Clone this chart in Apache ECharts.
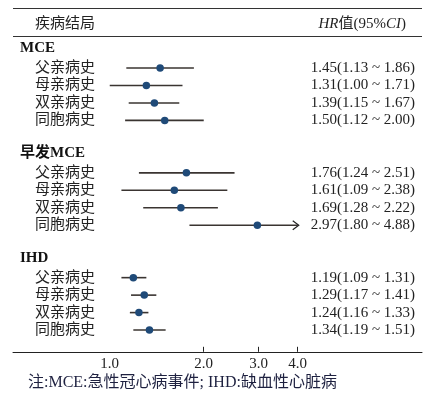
<!DOCTYPE html>
<html><head><meta charset="utf-8">
<script src="https://cdn.jsdelivr.net/npm/echarts@6/dist/echarts.min.js"></script>
<style>html,body{margin:0;padding:0;background:#fff}#c{width:433px;height:394px}</style>
</head><body><div id="c"></div>
<script>
// ---- data ----
const groups = ['MCE', '早发MCE', 'IHD'];
const rowLabels = ['父亲病史', '母亲病史', '双亲病史', '同胞病史'];
const hrMCE = [1.45, 1.31, 1.39, 1.50];
const loMCE = [1.13, 1.00, 1.15, 1.12];
const hiMCE = [1.86, 1.71, 1.67, 2.00];
const hrEarly = [1.76, 1.61, 1.69, 2.97];
const loEarly = [1.24, 1.09, 1.28, 1.80];
const hiEarly = [2.51, 2.38, 2.22, 4.88];
const hrIHD = [1.19, 1.29, 1.24, 1.34];
const loIHD = [1.09, 1.17, 1.16, 1.19];
const hiIHD = [1.31, 1.41, 1.33, 1.51];
const tickLabelValues = [1, 2, 3, 4];
const tickMarkValues = [2, 3, 4];
const headerLeft = '疾病结局';
const footnote = '注:MCE:急性冠心病事件; IHD:缺血性心脏病';

// ---- build ----
const FONT = '"Liberation Serif","Noto Sans CJK SC",serif';
const ARROW_CAP = 4.0;
const groupData = [[hrMCE, loMCE, hiMCE], [hrEarly, loEarly, hiEarly], [hrIHD, loIHD, hiIHD]];
const keys = [], info = {}, barData = [], pointData = [];
groups.forEach((g, gi) => {
  const hk = 'h' + gi; keys.push(hk); info[hk] = {type: 'h', text: g, right: ''};
  const [hr, lo, hi] = groupData[gi];
  rowLabels.forEach((r, ri) => {
    const k = 'r' + gi + '_' + ri;
    const idx = keys.length;
    keys.push(k);
    info[k] = {type: 'r', text: r,
      right: hr[ri].toFixed(2) + '(' + lo[ri].toFixed(2) + ' ~ ' + hi[ri].toFixed(2) + ')'};
    barData.push([lo[ri], hi[ri], idx]);
    pointData.push([hr[ri], idx]);
  });
  if (gi < groups.length - 1) { const bk = 'b' + gi; keys.push(bk); info[bk] = {type: 'b', text: '', right: ''}; }
});

const chart = echarts.init(document.getElementById('c'), null, {renderer: 'canvas'});
chart.setOption({
  animation: false,
  backgroundColor: '#ffffff',
  grid: {left: 13, right: 11, top: 41.8, bottom: 55.2},
  xAxis: {
    type: 'log', logBase: 10, min: 0.49, max: 10, offset: 13,
    axisLine: {show: true, lineStyle: {color: '#222', width: 1}},
    axisTick: {show: true, inside: true, length: 5, customValues: tickMarkValues, lineStyle: {color: '#222'}},
    minorTick: {show: false},
    splitLine: {show: false},
    axisLabel: {customValues: tickLabelValues, formatter: v => Number(v).toFixed(1), margin: 5,
      fontFamily: FONT, fontSize: 15, color: '#222'}
  },
  yAxis: [{
    type: 'category', data: keys, inverse: true, position: 'left',
    axisLine: {show: false}, axisTick: {show: false}, splitLine: {show: false},
    axisLabel: {
      inside: true, margin: 7, interval: 0, align: 'left',
      formatter: v => info[v].type === 'h' ? '{h|' + info[v].text + '}' : (info[v].type === 'r' ? '{r|' + info[v].text + '}' : ''),
      rich: {
        h: {fontFamily: FONT, fontSize: 15, fontWeight: 'bold', color: '#111', padding: [0, 0, 4, 0]},
        r: {fontFamily: FONT, fontSize: 15, color: '#222', padding: [0, 0, 0, 15]}
      }
    }
  }, {
    type: 'category', data: keys, inverse: true, position: 'right',
    axisLine: {show: false}, axisTick: {show: false}, splitLine: {show: false},
    axisLabel: {
      inside: true, margin: 7, interval: 0, align: 'right',
      formatter: v => info[v].right,
      fontFamily: FONT, fontSize: 15, color: '#222'
    }
  }],
  series: [{
    type: 'custom', yAxisIndex: 0,
    encode: {x: [0, 1], y: 2},
    data: barData,
    renderItem: function (params, api) {
      const lo = api.value(0), hi = api.value(1), y = api.value(2);
      const capped = hi > ARROW_CAP;
      const p1 = api.coord([lo, y]);
      const p2 = api.coord([capped ? ARROW_CAP : hi, y]);
      const children = [{type: 'line', shape: {x1: p1[0], y1: p1[1], x2: p2[0], y2: p2[1]},
        style: {stroke: '#3a3431', lineWidth: 1.6}}];
      if (capped) {
        children.push({type: 'polyline', shape: {points: [[p2[0] - 5, p2[1] - 4.5], [p2[0] + 1, p2[1]], [p2[0] - 5, p2[1] + 4.5]]},
          style: {stroke: '#222', fill: null, lineWidth: 1.2}});
      }
      return {type: 'group', children: children};
    },
    z: 2
  }, {
    type: 'scatter', yAxisIndex: 0,
    data: pointData, symbol: 'circle', symbolSize: 7.5,
    itemStyle: {color: '#1f4a78', opacity: 1},
    z: 3
  }],
  graphic: [
    {type: 'line', shape: {x1: 13, y1: 8.5, x2: 422, y2: 8.5}, style: {stroke: '#333', lineWidth: 1}},
    {type: 'line', shape: {x1: 13, y1: 36.5, x2: 422, y2: 36.5}, style: {stroke: '#333', lineWidth: 1}},
    {type: 'text', x: 35, y: 24, style: {text: headerLeft, font: '15px ' + FONT, fill: '#222', verticalAlign: 'middle', align: 'left'}},
    {type: 'text', x: 406, y: 24, style: {
      text: '{i|HR}{n|值(95%}{i|CI}{n|)}', align: 'right', verticalAlign: 'middle',
      rich: {
        i: {fontFamily: FONT, fontSize: 15, fontStyle: 'italic', fill: '#222', color: '#222'},
        n: {fontFamily: FONT, fontSize: 15, fill: '#222', color: '#222'}
      }}},
    {type: 'text', x: 28, y: 383, style: {text: footnote, font: '16px ' + FONT, fill: '#1e2140', verticalAlign: 'middle', align: 'left'}}
  ]
});
</script></body></html>
